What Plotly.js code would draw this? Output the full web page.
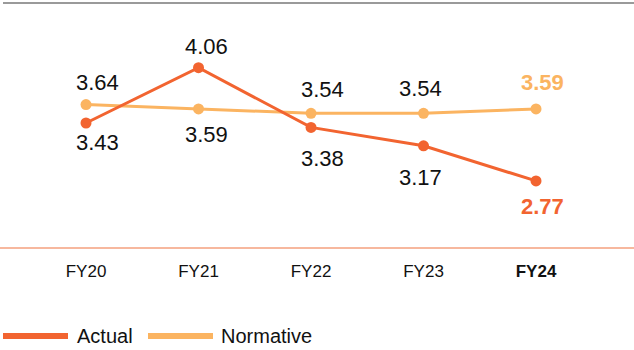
<!DOCTYPE html>
<html>
<head>
<meta charset="utf-8">
<script src="https://cdn.plot.ly/plotly-3.0.1.min.js"></script>
<style>html,body{margin:0;padding:0;background:#fff;}#chart{width:634px;height:350px;}</style>
</head>
<body>
<div id="chart"></div>
<script>
// ---- data ----
const categories = ["FY20", "FY21", "FY22", "FY23", "FY24"];
const tickLabels = ["FY20", "FY21", "FY22", "FY23", "<b>FY24</b>"];
const seriesNames = ["Actual", "Normative"];
const actualValues = [3.43, 4.06, 3.38, 3.17, 2.77];
const normativeValues = [3.64, 3.59, 3.54, 3.54, 3.59];

// ---- style ----
const colActual = "#f26430";
const colNorm = "#fbb461";
const font = "Liberation Sans, Arial, sans-serif";
// label offsets (pixels) per point
const actualShift = [[11, -19], [8, 21], [11, -31], [-3, -32], [6, -26]];
const normShift = [[11, 22], [8, -26], [11, 24], [-3, 25], [6, 26]];

const traces = [
  {x: categories, y: actualValues, name: seriesNames[0], type: "scatter", mode: "lines+markers",
   line: {color: colActual, width: 3}, marker: {color: colActual, size: 11}, showlegend: false, cliponaxis: false},
  {x: categories, y: normativeValues, name: seriesNames[1], type: "scatter", mode: "lines+markers",
   line: {color: colNorm, width: 3}, marker: {color: colNorm, size: 11}, showlegend: false, cliponaxis: false}
];
// put normative underneath actual
traces.reverse();

const annotations = [];
function addLabels(vals, shifts, color) {
  vals.forEach((v, i) => {
    const last = i === vals.length - 1;
    annotations.push({
      x: categories[i], y: v, xref: "x", yref: "y",
      text: last ? "<b>" + v.toFixed(2) + "</b>" : v.toFixed(2),
      showarrow: false, xshift: shifts[i][0], yshift: shifts[i][1],
      font: {family: font, size: 22, color: last ? color : "#111"}
    });
  });
}
addLabels(actualValues, actualShift, colActual);
addLabels(normativeValues, normShift, colNorm);

// manual legend
const shapes = [
  {type: "line", xref: "paper", yref: "paper", x0: 0, x1: 1, y0: 1, y1: 1, line: {color: "#9a9a9a", width: 2}},
  {type: "line", xref: "paper", yref: "paper", x0: -0.01, x1: 1, y0: 0, y1: 0, line: {color: "#f4a07e", width: 1.5}}
];
const legendItems = [
  {name: seriesNames[0], color: colActual, x0: 3, x1: 68, tx: 75},
  {name: seriesNames[1], color: colNorm, x0: 148, x1: 213, tx: 219}
];
const plotW = 631, plotL = 3, plotTop = 3, plotH = 245;
legendItems.forEach(it => {
  const yp = (plotTop + plotH - 336) / plotH;
  shapes.push({type: "line", xref: "paper", yref: "paper",
    x0: (it.x0 - plotL) / plotW, x1: (it.x1 - plotL) / plotW, y0: yp, y1: yp,
    line: {color: it.color, width: 6}});
  annotations.push({xref: "paper", yref: "paper", x: (it.tx - plotL) / plotW, y: yp,
    xanchor: "left", yanchor: "middle", text: it.name, showarrow: false,
    font: {family: font, size: 20, color: "#111"}});
});

const layout = {
  width: 634, height: 350,
  margin: {l: 3, r: 0, t: 3, b: 102},
  paper_bgcolor: "#fff", plot_bgcolor: "#fff",
  showlegend: false,
  xaxis: {type: "category", range: [-0.738, 4.871], showgrid: false, zeroline: false, showline: false,
    tickmode: "array", tickvals: categories, ticktext: tickLabels,
    ticks: "outside", ticklen: 8, tickcolor: "rgba(0,0,0,0)",
    tickfont: {family: font, size: 17, color: "#111"}},
  yaxis: {range: [2.006, 4.797], showgrid: false, zeroline: false, showline: false, showticklabels: false, ticks: ""},
  annotations: annotations, shapes: shapes
};
Plotly.newPlot("chart", traces, layout, {displayModeBar: false, staticPlot: true});
</script>
</body>
</html>
